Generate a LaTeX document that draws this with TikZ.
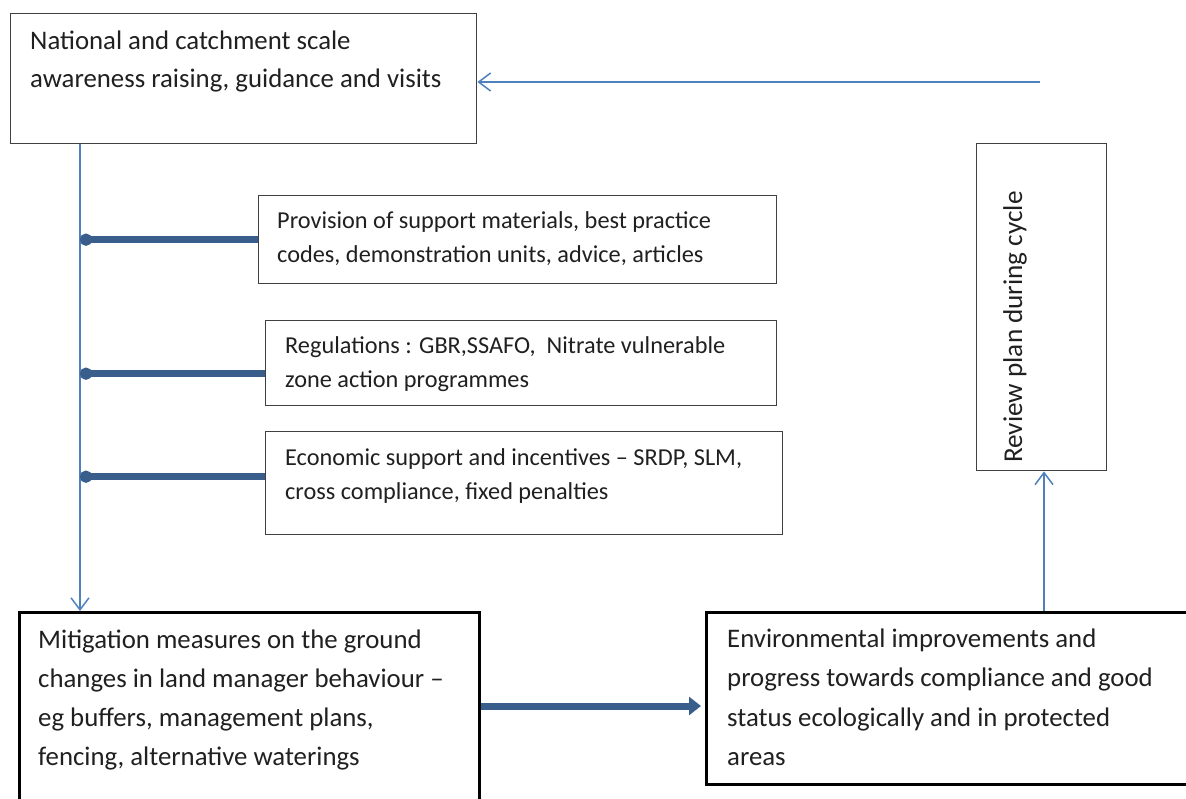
\documentclass[tikz,border=0pt]{standalone}
\usepackage{fontspec}
\setmainfont{Carlito}
\usetikzlibrary{arrows.meta}
\definecolor{thinblue}{HTML}{4F81BD}
\definecolor{thickblue}{HTML}{3A5E8C}
\definecolor{txtgray}{HTML}{202020}
\tikzset{
  box/.style={draw=black!75, line width=1.4pt, fill=white, inner sep=0pt, anchor=north west},
  bigbox/.style={draw=black, line width=3.4pt, fill=white, inner sep=0pt, anchor=north west},
  bigtxt/.style={anchor=base west, inner sep=0pt, align=left, text=txtgray, font=\fontsize{26.8}{39}\selectfont},
  smalltxt/.style={anchor=base west, inner sep=0pt, align=left, text=txtgray, font=\fontsize{24.3}{34}\selectfont},
  thinarrow/.style={draw=thinblue, line width=1.5pt, -{Straight Barb[length=12pt,width=18pt,line width=1.5pt]}},
  dotconn/.style={draw=thickblue, line width=7pt, -{Circle[length=12pt]}},
  thickarrow/.style={draw=thickblue, line width=7pt, -{Triangle[length=12pt,width=18pt]}},
}
\begin{document}
\begin{tikzpicture}[x=1pt,y=-1pt]
\useasboundingbox (0,0) rectangle (1186,799);
% boxes
\node[box, minimum width=466pt, minimum height=130pt] (top) at (10,13) {};
\node[box, minimum width=518pt, minimum height=88pt] (prov) at (258,195) {};
\node[box, minimum width=511pt, minimum height=85pt] (reg) at (265,320) {};
\node[box, minimum width=517pt, minimum height=103pt] (econ) at (265,431) {};
\node[box, minimum width=130pt, minimum height=327pt] (rev) at (976,143) {};
\node[bigbox, minimum width=460pt, minimum height=200pt] (mit) at (18,611) {};
\node[bigbox, minimum width=490pt, minimum height=172pt] (env) at (705,611) {};
% texts (anchor = baseline of last line)
\node[bigtxt, font=\fontsize{26.8}{38}\selectfont] (toptxt) at (30,88) {National and catchment scale\\awareness raising, guidance and visits};
\node[smalltxt] (provtxt) at (277,263) {Provision of support materials, best practice\\codes, demonstration units, advice, articles};
\node[smalltxt] (regtxt) at (285,388) {Regulations : GBR,SSAFO,\ \ Nitrate vulnerable\\zone action programmes};
\node[smalltxt] (econtxt) at (285,499) {Economic support and incentives – SRDP, SLM,\\cross compliance, fixed penalties};
\node[bigtxt] (mittxt) at (38,765) {Mitigation measures on the ground\\changes in land manager behaviour –\\eg buffers, management plans,\\fencing, alternative waterings};
\node[bigtxt, font=\fontsize{26.8}{39.5}\selectfont] (envtxt) at (727,765.5) {Environmental improvements and\\progress towards compliance and good\\status ecologically and in protected\\areas};
\node[anchor=base, inner sep=0pt, rotate=90, text=txtgray, font=\fontsize{27.2}{39}\selectfont] (revtxt) at (1022,327) {Review plan during cycle};
% coordinates
\coordinate (v) at (80,0);
\coordinate (start) at (1040,82);
\coordinate (h) at (0,706);
% connectors
\draw[thinarrow] (start) -- (top.east |- start);
\draw[thinarrow] (top.south -| v) -- (mit.north -| v);
\draw[dotconn] (prov.west) -- (prov.west -| v);
\draw[dotconn] ([yshift=-10.5pt]reg.west) -- ([yshift=-10.5pt]reg.west -| v);
\draw[dotconn] ([yshift=6.5pt]econ.west) -- ([yshift=6.5pt]econ.west -| v);
\draw[thickarrow] (mit.east |- h) -- ([xshift=-4pt]env.west |- h);
\draw[thinarrow] (env.north -| 1044,0) -- (rev.south -| 1044,0);
\end{tikzpicture}
\end{document}
